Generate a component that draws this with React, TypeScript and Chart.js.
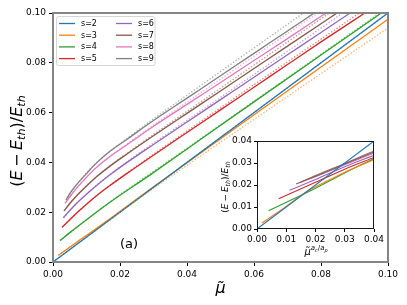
import React, { useEffect, useRef } from "react";
import { Chart, registerables } from "chart.js";
Chart.register(...registerables);

// ---------- data ----------
const seriesLabels = ["s=2", "s=3", "s=4", "s=5", "s=6", "s=7", "s=8", "s=9"];
const seriesColors = ["#1f77b4", "#ff7f0e", "#2ca02c", "#d62728", "#9467bd", "#8c564b", "#e377c2", "#7f7f7f"];

const mainXTicks = [0, 0.02, 0.04, 0.06, 0.08, 0.1];
const insetTicks = [0, 0.01, 0.02, 0.03, 0.04];

// main panel, solid curves: [mu, (E-Eth)/Eth]
const solidS2: number[][] = [[0, 0], [0.1, 0.1]];
const solidS3: number[][] = [[0.0016, 0.0027], [0.008, 0.0088], [0.017, 0.0174], [0.029, 0.0292], [0.0573, 0.0565], [0.1, 0.0975]];
const solidS4: number[][] = [[0.0021, 0.0086], [0.005, 0.0118], [0.01, 0.017], [0.017, 0.024], [0.029, 0.035], [0.04, 0.0454], [0.06, 0.0643], [0.08, 0.0831], [0.098, 0.1]];
const solidS5: number[][] = [[0.0027, 0.0139], [0.005, 0.017], [0.007, 0.0196], [0.01, 0.0232], [0.013, 0.0266], [0.017, 0.0307], [0.022, 0.0355], [0.03, 0.0429], [0.04, 0.052], [0.05, 0.0611], [0.06, 0.0702], [0.07, 0.0793], [0.08, 0.0884], [0.0931, 0.1]];
const solidS6: number[][] = [[0.0031, 0.0178], [0.005, 0.0207], [0.007, 0.0235], [0.01, 0.0272], [0.013, 0.0307], [0.017, 0.035], [0.022, 0.0399], [0.03, 0.0472], [0.04, 0.0562], [0.05, 0.0652], [0.06, 0.0742], [0.07, 0.0832], [0.08, 0.0922], [0.0887, 0.1]];
const solidS7: number[][] = [[0.0033, 0.0205], [0.005, 0.0235], [0.007, 0.0265], [0.01, 0.0305], [0.013, 0.0342], [0.017, 0.0385], [0.022, 0.0433], [0.03, 0.0507], [0.04, 0.0597], [0.05, 0.0687], [0.06, 0.0777], [0.07, 0.0867], [0.0848, 0.1]];
const solidS8: number[][] = [[0.0036, 0.0236], [0.005, 0.0262], [0.007, 0.0296], [0.01, 0.034], [0.013, 0.038], [0.017, 0.0424], [0.022, 0.047], [0.03, 0.0545], [0.04, 0.0633], [0.05, 0.0721], [0.06, 0.0809], [0.07, 0.0897], [0.0815, 0.1]];
const solidS9: number[][] = [[0.0039, 0.0249], [0.005, 0.0275], [0.007, 0.031], [0.01, 0.0355], [0.013, 0.0398], [0.017, 0.0445], [0.022, 0.0492], [0.03, 0.0568], [0.04, 0.0658], [0.05, 0.0748], [0.06, 0.0838], [0.07, 0.0928], [0.078, 0.1]];

// main panel, dotted curves
const dottedS2: number[][] = [[0, 0], [0.1, 0.1]];
const dottedS3: number[][] = [[0.0016, 0.0027], [0.017, 0.0172], [0.029, 0.0286], [0.0573, 0.0548], [0.1, 0.094]];
const dottedS4: number[][] = [[0.0021, 0.0086], [0.017, 0.0241], [0.04, 0.0457], [0.0975, 0.1]];
const dottedS5: number[][] = [[0.0027, 0.0139], [0.007, 0.0196], [0.013, 0.0267], [0.022, 0.0357], [0.03, 0.0433], [0.04, 0.0526], [0.05, 0.0619], [0.06, 0.0712], [0.0915, 0.1]];
const dottedS6: number[][] = [[0.0031, 0.0178], [0.007, 0.0235], [0.013, 0.0308], [0.022, 0.0402], [0.03, 0.0477], [0.04, 0.0569], [0.05, 0.0661], [0.06, 0.0753], [0.0865, 0.1]];
const dottedS7: number[][] = [[0.0033, 0.0205], [0.007, 0.0265], [0.013, 0.0343], [0.022, 0.0436], [0.03, 0.0512], [0.04, 0.0605], [0.05, 0.0698], [0.06, 0.0791], [0.0825, 0.1]];
const dottedS8: number[][] = [[0.0036, 0.0236], [0.007, 0.0296], [0.013, 0.0381], [0.022, 0.0473], [0.03, 0.055], [0.04, 0.0642], [0.05, 0.0734], [0.06, 0.0826], [0.079, 0.1]];
const dottedS9: number[][] = [[0.0039, 0.0249], [0.007, 0.031], [0.013, 0.0399], [0.022, 0.0495], [0.03, 0.0575], [0.04, 0.067], [0.05, 0.0765], [0.06, 0.086], [0.0748, 0.1]];

// inset curves
const insetS2: number[][] = [[0, 0], [0.04, 0.04]];
const insetS3: number[][] = [[0.0017, 0.0027], [0.01, 0.0103], [0.018, 0.0178], [0.025, 0.0225], [0.03, 0.0258], [0.04, 0.0315]];
const insetS4: number[][] = [[0.004, 0.0083], [0.02, 0.0185], [0.03, 0.0255], [0.04, 0.032]];
const insetS5: number[][] = [[0.0074, 0.0138], [0.02, 0.0212], [0.03, 0.0272], [0.04, 0.0325]];
const insetS6: number[][] = [[0.0111, 0.0176], [0.02, 0.0225], [0.03, 0.0283], [0.04, 0.0335]];
const insetS7: number[][] = [[0.0134, 0.0205], [0.02, 0.024], [0.03, 0.0295], [0.04, 0.035]];
const insetS8: number[][] = [[0.0145, 0.021], [0.02, 0.0238], [0.03, 0.0292], [0.04, 0.0345]];
const insetS9: number[][] = [[0.0152, 0.0214], [0.02, 0.0243], [0.03, 0.0298], [0.04, 0.0355]];

const solidAll = [solidS2, solidS3, solidS4, solidS5, solidS6, solidS7, solidS8, solidS9];
const dottedAll = [dottedS2, dottedS3, dottedS4, dottedS5, dottedS6, dottedS7, dottedS8, dottedS9];
const insetAll = [insetS2, insetS3, insetS4, insetS5, insetS6, insetS7, insetS8, insetS9];

// ---------- helpers ----------
const FAM = "'DejaVu Sans', sans-serif";
type Piece = { t?: string; it?: boolean; s?: number; dy?: number; gap?: number };

function drawMath(ctx: CanvasRenderingContext2D, pieces: Piece[], size: number, cx: number, cy: number, rot: number) {
  const fontOf = (p: Piece) => `${p.it ? "italic " : ""}${size * (p.s ?? 1)}px ${FAM}`;
  const widths = pieces.map((p) => {
    if (p.gap !== undefined) return p.gap * size;
    ctx.font = fontOf(p);
    return ctx.measureText(p.t || "").width;
  });
  const total = widths.reduce((a, b) => a + b, 0);
  ctx.save();
  ctx.translate(cx, cy);
  ctx.rotate(rot);
  ctx.fillStyle = "#000";
  ctx.textAlign = "left";
  ctx.textBaseline = "alphabetic";
  let x = -total / 2;
  const base = size * 0.36;
  pieces.forEach((p, i) => {
    if (p.gap === undefined) {
      ctx.font = fontOf(p);
      ctx.fillText(p.t || "", x, base + (p.dy ?? 0) * size);
    }
    x += widths[i];
  });
  ctx.restore();
}

const eRatio: Piece[] = [
  { t: "(" },
  { t: "E", it: true },
  { gap: 0.22 },
  { t: "\u2212" },
  { gap: 0.22 },
  { t: "E", it: true },
  { t: "th", it: true, s: 0.7, dy: 0.22 },
  { t: ")/" },
  { t: "E", it: true },
  { t: "th", it: true, s: 0.7, dy: 0.22 },
];

const tickFmt = (v: any) => Number(v).toFixed(2);

function scaleCfg(min: number, max: number, ticks: number[], len: number, pad: number, fit: (s: any) => void) {
  return {
    type: "linear" as const,
    min,
    max,
    afterBuildTicks: (s: any) => {
      s.ticks = ticks.map((v) => ({ value: v }));
    },
    afterFit: fit,
    ticks: { callback: tickFmt, font: { family: FAM, size: 9 }, color: "#000", padding: pad, maxRotation: 0, autoSkip: false },
    grid: { drawOnChartArea: false, drawTicks: true, tickLength: len, color: "#000", tickColor: "#000" },
    border: { display: false },
  };
}

export default function App() {
  const mainRef = useRef<HTMLCanvasElement>(null);
  const insetRef = useRef<HTMLCanvasElement>(null);

  useEffect(() => {
    document.body.style.margin = "0";
    const mainDatasets: any[] = [];
    solidAll.forEach((d, i) =>
      mainDatasets.push({
        label: seriesLabels[i],
        data: d.map(([x, y]) => ({ x, y })),
        borderColor: seriesColors[i],
        borderWidth: 1.3,
        pointRadius: 0,
        fill: false,
        cubicInterpolationMode: "monotone",
        order: 2,
      })
    );
    dottedAll.forEach((d, i) =>
      mainDatasets.push({
        label: seriesLabels[i] + " dotted",
        data: d.map(([x, y]) => ({ x, y })),
        borderColor: seriesColors[i] + "99",
        borderWidth: 1.3,
        borderDash: [1.4, 1.8],
        pointRadius: 0,
        fill: false,
        cubicInterpolationMode: "monotone",
        order: 1,
      })
    );

    const mainPlugin = {
      id: "mainDecor",
      beforeDraw(chart: any) {
        const c = chart.ctx;
        c.save();
        c.fillStyle = "#fff";
        c.fillRect(0, 0, chart.width, chart.height);
        c.restore();
      },
      afterDraw(chart: any) {
        const c: CanvasRenderingContext2D = chart.ctx;
        const a = chart.chartArea;
        c.save();
        c.strokeStyle = "#858585";
        c.lineWidth = 2;
        c.strokeRect(a.left, a.top, a.right - a.left, a.bottom - a.top);
        // legend
        const lx = 56.5, ly = 16.5, lw = 98.5, lh = 49;
        c.beginPath();
        (c as any).roundRect(lx, ly, lw, lh, 2);
        c.fillStyle = "rgba(255,255,255,0.8)";
        c.fill();
        c.strokeStyle = "#d6d6d6";
        c.lineWidth = 1;
        c.stroke();
        c.font = `8px ${FAM}`;
        c.textBaseline = "middle";
        c.textAlign = "left";
        seriesLabels.forEach((lab, i) => {
          const col = Math.floor(i / 4);
          const row = i % 4;
          const y = 23.5 + row * 11.7;
          const x0 = col === 0 ? 59 : 116;
          c.strokeStyle = seriesColors[i];
          c.lineWidth = 1.3;
          c.beginPath();
          c.moveTo(x0, y);
          c.lineTo(x0 + 16, y);
          c.stroke();
          c.fillStyle = "#000";
          c.fillText(lab, x0 + 22, y + 0.5);
        });
        // (a)
        c.font = `13px ${FAM}`;
        c.textAlign = "center";
        c.textBaseline = "middle";
        c.fillStyle = "#000";
        c.fillText("(a)", 129, 245);
        c.restore();
        // axis titles
        drawMath(c, [{ t: "\u03bc\u0303", it: true }], 16, (a.left + a.right) / 2, 287, 0);
        drawMath(c, eRatio, 16, 16, 141, -Math.PI / 2);
      },
    };

    const main = new Chart(mainRef.current as HTMLCanvasElement, {
      type: "line",
      data: { datasets: mainDatasets },
      options: {
        responsive: false,
        maintainAspectRatio: false,
        animation: false,
        devicePixelRatio: 1,
        layout: { padding: { left: 0, right: 19, top: 13, bottom: 0 } },
        plugins: { legend: { display: false }, tooltip: { enabled: false } },
        scales: {
          x: scaleCfg(0, 0.1, mainXTicks, 4, 3, (s: any) => { s.height = 43; }),
          y: scaleCfg(0, 0.1, mainXTicks, 4, 3, (s: any) => { s.width = 53; }),
        },
      } as any,
      plugins: [mainPlugin],
    });

    const insetDatasets = insetAll.map((d, i) => ({
      label: seriesLabels[i],
      data: d.map(([x, y]) => ({ x, y })),
      borderColor: seriesColors[i],
      borderWidth: 1.1,
      pointRadius: 0,
      fill: false,
      cubicInterpolationMode: "monotone",
    }));

    const OX = 212, OY = 131;
    const insetPlugin = {
      id: "insetDecor",
      beforeDraw(chart: any) {
        const c = chart.ctx;
        const a = chart.chartArea;
        c.save();
        c.fillStyle = "#fff";
        c.fillRect(a.left, a.top, a.right - a.left, a.bottom - a.top);
        c.restore();
      },
      afterDraw(chart: any) {
        const c: CanvasRenderingContext2D = chart.ctx;
        const a = chart.chartArea;
        c.save();
        c.strokeStyle = "#1a1a1a";
        c.lineWidth = 1;
        c.strokeRect(a.left + 0.5, a.top + 0.5, a.right - a.left - 1, a.bottom - a.top - 1);
        c.restore();
        drawMath(
          c,
          [
            { t: "\u03bc\u0303", it: true },
            { t: "a", it: true, s: 0.7, dy: -0.42 },
            { t: "c", it: true, s: 0.5, dy: -0.3 },
            { t: "/", s: 0.7, dy: -0.42 },
            { t: "a", it: true, s: 0.7, dy: -0.42 },
            { t: "p", it: true, s: 0.5, dy: -0.3 },
          ],
          10,
          316 - OX,
          251 - OY,
          0
        );
        drawMath(c, eRatio, 9, 225 - OX, 187 - OY, -Math.PI / 2);
      },
    };

    const inset = new Chart(insetRef.current as HTMLCanvasElement, {
      type: "line",
      data: { datasets: insetDatasets },
      options: {
        responsive: false,
        maintainAspectRatio: false,
        animation: false,
        devicePixelRatio: 1,
        layout: { padding: { left: 0, right: 20, top: 10, bottom: 0 } },
        plugins: { legend: { display: false }, tooltip: { enabled: false } },
        scales: {
          x: scaleCfg(0, 0.04, insetTicks, 3, 2, (s: any) => { s.height = 36; }),
          y: scaleCfg(0, 0.04, insetTicks, 3, 2, (s: any) => { s.width = 45; }),
        },
      } as any,
      plugins: [insetPlugin],
    });

    return () => {
      main.destroy();
      inset.destroy();
    };
  }, []);

  return (
    <div style={{ position: "fixed", left: 0, top: 0, width: 407, height: 305, background: "#fff" }}>
      <canvas ref={mainRef} width={407} height={305} style={{ position: "absolute", left: 0, top: 0, width: 407, height: 305 }} />
      <canvas ref={insetRef} width={182} height={134} style={{ position: "absolute", left: 212, top: 131, width: 182, height: 134 }} />
    </div>
  );
}
